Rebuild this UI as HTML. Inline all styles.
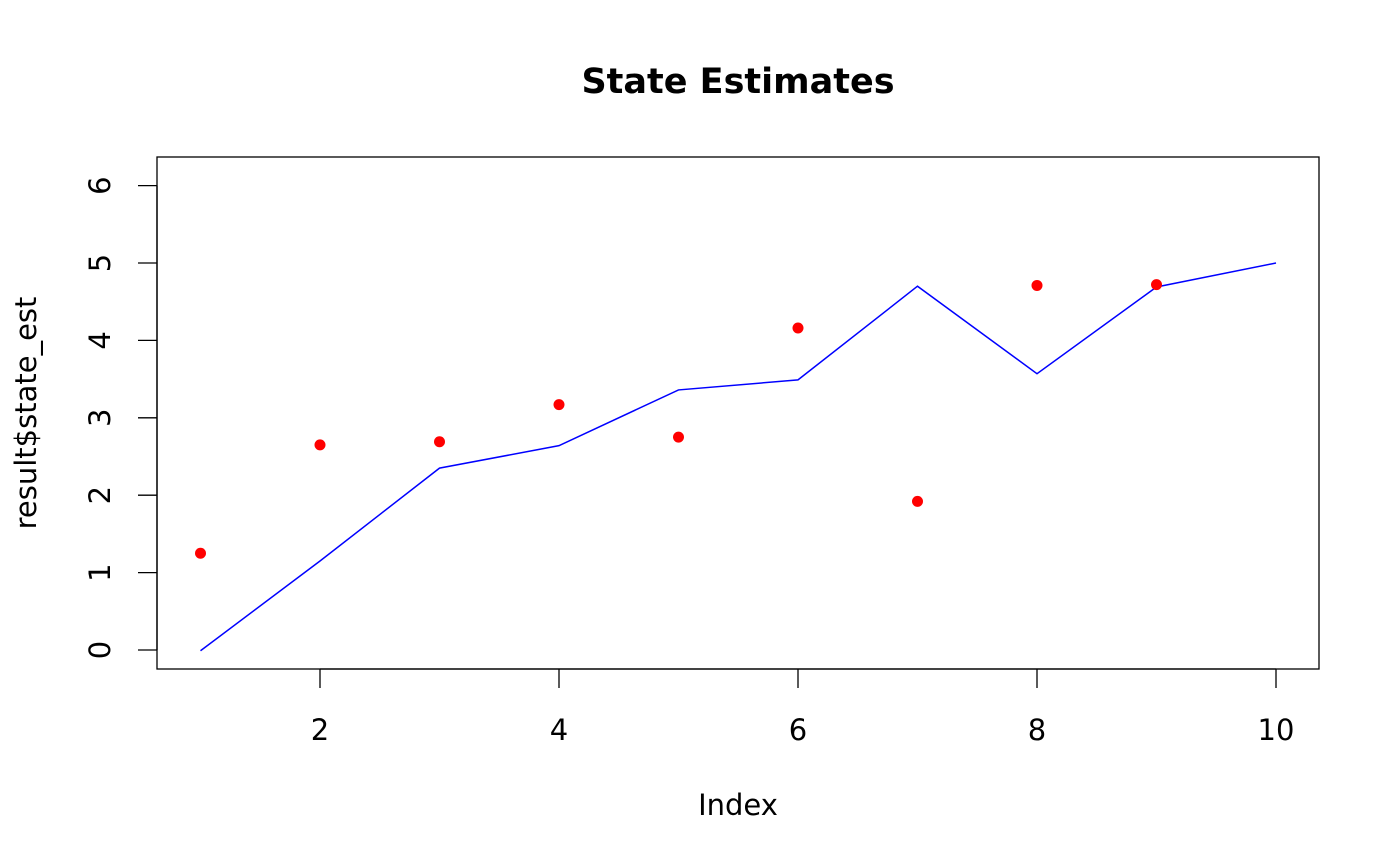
<!DOCTYPE html>
<html><head><meta charset="utf-8"><style>
body{margin:0;background:#fff;}
svg{display:block;font-family:"DejaVu Sans","Liberation Sans",sans-serif;}
</style></head><body>
<svg id="chart" width="1400" height="866" xmlns="http://www.w3.org/2000/svg">
<rect width="1400" height="866" fill="#fff"/>
<text x="738" y="93" text-anchor="middle" font-size="35" font-weight="bold">State Estimates</text>
<rect x="157" y="157" width="1162" height="512" fill="none" stroke="#000" stroke-width="1.3"/>
<text x="738" y="815" text-anchor="middle" font-size="29">Index</text>
<text transform="translate(36,413) rotate(-90)" text-anchor="middle" font-size="29">result$state_est</text>
<g id="xaxis"></g>
<g id="yaxis"></g>
<g id="series"></g>
</svg>
<script>
const xTicks = [2, 4, 6, 8, 10];
const yTicks = [0, 1, 2, 3, 4, 5, 6];
const lineIndex = [1, 2, 3, 4, 5, 6, 7, 8, 9, 10];
const lineValues = [-0.01, 1.15, 2.35, 2.64, 3.36, 3.49, 4.70, 3.57, 4.69, 5.0];
const pointIndex = [1, 2, 3, 4, 5, 6, 7, 8, 9];
const pointValues = [1.25, 2.65, 2.69, 3.17, 2.75, 4.16, 1.92, 4.71, 4.72];

const NS = "http://www.w3.org/2000/svg";
const xs = v => 200.5 + (v - 1) * 119.5;
const ys = v => 650 - v * 77.4;
function mk(tag, attrs, parent){const e=document.createElementNS(NS,tag);for(const k in attrs)e.setAttribute(k,attrs[k]);parent.appendChild(e);return e;}

const xa = document.getElementById('xaxis');
mk('line',{x1:xs(xTicks[0]),x2:xs(xTicks[xTicks.length-1]),y1:669,y2:669,stroke:'#000','stroke-width':1.3},xa);
xTicks.forEach(t=>{
  const l=mk('line',{x1:xs(t),x2:xs(t),y1:669,y2:688,stroke:'#000','stroke-width':1.3},xa);
  
  
  const tx=mk('text',{x:xs(t),y:740,'text-anchor':'middle','font-size':29},xa);
  tx.textContent=t;
  
  
});
const ya = document.getElementById('yaxis');
mk('line',{x1:157,x2:157,y1:ys(yTicks[0]),y2:ys(yTicks[yTicks.length-1]),stroke:'#000','stroke-width':1.3},ya);
yTicks.forEach(t=>{
  const l=mk('line',{x1:138,x2:157,y1:ys(t),y2:ys(t),stroke:'#000','stroke-width':1.3},ya);
  
  
  const tx=mk('text',{transform:`translate(110,${ys(t)}) rotate(-90)`,'text-anchor':'middle','font-size':29},ya);
  tx.textContent=t;
  
  
});
const sg = document.getElementById('series');
const pl = mk('polyline',{points:lineIndex.map((x,i)=>xs(x)+','+ys(lineValues[i])).join(' '),fill:'none',stroke:'#0000ff','stroke-width':1.5},sg);


pointIndex.forEach((x,i)=>{
  const c=mk('circle',{cx:xs(x),cy:ys(pointValues[i]),r:5.5,fill:'#ff0000'},sg);
  
  
});
</script>
</body></html>
